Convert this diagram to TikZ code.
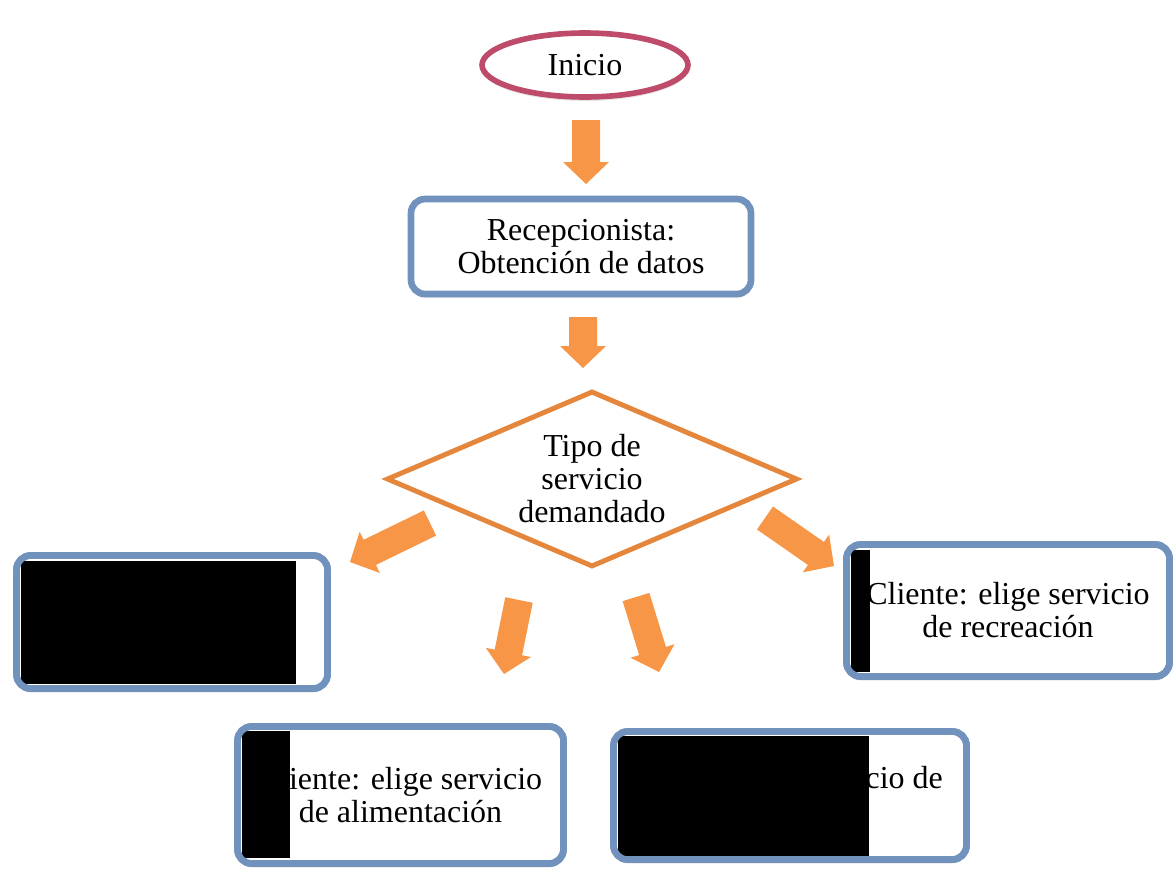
\documentclass[tikz,border=0pt]{standalone}
\usepackage{fontspec}
\setmainfont{Liberation Serif}
\usetikzlibrary{shapes.geometric,calc,shadows}

\definecolor{rosa}{HTML}{BE4B6A}
\definecolor{azul}{HTML}{7292BE}
\definecolor{naranja}{HTML}{F79646}
\definecolor{naranjaosc}{HTML}{E4873C}

\tikzset{
  texto/.style={font=\fontsize{18.2}{18.8}\selectfont, align=center},
  caja/.style={texto, draw=azul, line width=3.8pt, fill=white, rounded corners=0.28cm,
    inner sep=0pt, outer sep=0pt,
    drop shadow={opacity=0.2, shadow xshift=0pt, shadow yshift=-0.08cm}},
  borde/.style={draw=azul, line width=3.8pt, rounded corners=0.28cm},
  inicio/.style={texto, ellipse, draw=rosa, line width=3.2pt, fill=white, inner sep=0pt,
    minimum width=4.12cm, minimum height=1.28cm,
    drop shadow={opacity=0.2, shadow xshift=0pt, shadow yshift=-0.08cm}},
  decision/.style={texto, diamond, aspect=2.33, draw=naranjaosc, line width=2.8pt,
    fill=white, inner sep=0pt, minimum width=8.22cm, minimum height=3.52cm},
  tapa/.style={fill=black}
}

% block arrow from tail #1 to tip #2
\newcommand{\flecha}[2]{%
  \coordinate (hb) at ($(#2)!0.44cm!(#1)$);
  \fill[naranja] ($(#1)!0.28cm!90:(#2)$) -- ($(hb)!0.28cm!90:(#2)$)
    -- ($(hb)!0.46cm!90:(#2)$) -- (#2) -- ($(hb)!0.46cm!-90:(#2)$)
    -- ($(hb)!0.28cm!-90:(#2)$) -- ($(#1)!0.28cm!-90:(#2)$) -- cycle;}

\begin{document}
\begin{tikzpicture}[x=0.02cm, y=-0.02cm]
    \useasboundingbox (0,0) rectangle (1176,873);
    % main column
    \node[inicio] (ini) at (585,65) {Inicio};
    \node[caja, minimum width=6.8cm, minimum height=1.9cm] (recep) at (581,246.5)
        {Recepcionista:\\Obtención de datos};
    \node[decision] (tipo) at (592,479) {Tipo de\\servicio\\demandado};
    % service boxes
    \node[caja, minimum width=6.22cm, minimum height=2.66cm] (izq) at (172,622) {};
    \node[caja, minimum width=6.46cm, minimum height=2.64cm] (recr) at (1008,610.5)
        {Cliente: elige servicio\\de recreación};
    \node[caja, minimum width=6.52cm, minimum height=2.74cm] (alim) at (400.5,795)
        {\phantom{Cl}iente: elige servicio\\de alimentación};
    \node[caja, minimum width=7.06cm, minimum height=2.56cm] (hosp) at (790,795.5) {};
    \node[texto, anchor=base east] (hosptxt) at (949,788) {cio de};
    % covered parts
    \fill[tapa] (21,561) rectangle (296,684);
    \fill[tapa] (851,550) rectangle (870,672);
    \fill[tapa] (242,731) rectangle (290,858);
    \fill[tapa] (618,736) rectangle (869,857);
    \foreach \n in {izq, recr, alim, hosp} {
        \draw[borde] (\n.south west) rectangle (\n.north east);
    }
    % arrows
    \foreach \xa/\ya/\xb/\yb in {586/120/586/184, 583/317/583/368, 430/523/350/562,
                                 519/600/504/674, 636/597/659/672, 765/518/834/566} {
        \coordinate (cola) at (\xa,\ya);
        \coordinate (punta) at (\xb,\yb);
        \flecha{cola}{punta}
    }
\end{tikzpicture}
\end{document}
